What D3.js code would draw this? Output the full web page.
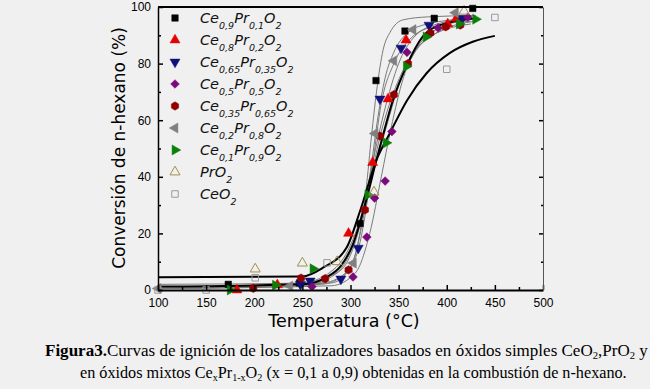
<!DOCTYPE html>
<html>
<head>
<meta charset="utf-8">
<script src="https://cdn.jsdelivr.net/npm/d3@7"></script>
<style>
  body { margin: 0; background: #f0f0f0; }
  svg { display: block; }
</style>
</head>
<body>
<svg width="650" height="389"></svg>
<script>
// measured points, [temperature °C, conversion %]
const ce09Pts = [[173, 2], [247, 2.5], [310, 23.5], [326.5, 74], [356.6, 91.5], [387, 96], [427, 99.5]];
const ce08Pts = [[182, 0], [224, 1.8], [298, 20], [323, 45], [339, 67.5], [357.7, 88.3], [401, 94], [410, 96]];
const ce065Pts = [[248, 2], [258, 3.2], [290, 3.9], [308, 14.8], [330.6, 67.5], [352.5, 85.5], [381.6, 93.6], [416, 96]];
const ce05Pts = [[260, 1.2], [302.6, 4.6], [317, 18.7], [325, 32.5], [336, 38.5], [343, 56], [358.7, 84], [391, 92.6], [422, 96.4]];
const ce035Pts = [[199, 0.6], [248.6, 4.2], [273.6, 4], [298, 7.1], [315, 28.3], [330.6, 54.4], [345, 69], [359.7, 80], [383, 90.8], [399, 93], [414, 93.6]];
const ce02Pts = [[100, 0.5], [237, 1.4], [303, 9.5], [325.5, 55.3], [345, 81], [365, 92], [409, 98]];
const ce01Pts = [[175, 0], [222, 1.7], [261, 7.5], [318, 33.6], [337, 52], [358, 79], [378.5, 89.4], [413, 94], [430, 95.7]];
const pro2Pts = [[201, 7.4], [250, 9.5], [286, 10], [324.4, 34.6], [418, 98.5]];
const ceo2Pts = [[100, 0], [150, 0], [201, 4.3], [275.6, 9.6], [400, 78], [450, 96.3]];

// fitted curves
const ce09Fit = [[100, 2], [270, 2.5], [295, 6], [308, 17], [316, 35], [322, 55], [327, 70], [334, 85], [341, 91], [355, 95.5], [380, 96.5], [430, 97]];
const ce08Fit = [[100, 0.5], [250, 1.5], [290, 7], [310, 23], [323, 45], [335, 63], [350, 80], [365, 89], [390, 94], [425, 96]];
const ce065Fit = [[100, 0.5], [270, 2], [295, 6], [310, 17], [322, 42], [332, 66], [345, 80], [360, 88], [385, 93], [425, 95]];
const ce05Fit = [[100, 0.5], [280, 1.5], [305, 6], [320, 20], [332, 40], [342, 57], [355, 75], [370, 86], [395, 93], [430, 96]];
const ce035Fit = [[100, 1], [250, 2.5], [285, 6], [305, 18], [320, 38], [332, 56], [345, 70], [360, 81], [385, 90], [425, 94]];
const ce02Fit = [[100, 1], [280, 2.5], [300, 8], [313, 25], [322, 45], [328, 60], [336, 75], [345, 84], [360, 91], [380, 94], [425, 96]];
const ce01Fit = [[100, 0.5], [250, 2.5], [285, 8], [305, 20], [320, 37], [335, 55], [350, 72], [365, 83], [390, 91], [430, 95]];
const pro2Fit = [[100, 1.2], [250, 2], [275, 4.5], [290, 8.5], [303, 16.6], [315, 30], [327, 46], [334, 55], [344, 67], [358, 79], [375, 89.5], [393, 93.6], [431, 96]];
const ceo2Fit = [[100, 4.5], [250, 4.8], [271, 7.8], [296, 15], [310, 28], [327, 46], [341, 55.5], [358.7, 67], [379, 76.6], [403, 83.7], [427, 87.7], [450, 89.8]];

const seriesPts = [ce09Pts, ce08Pts, ce065Pts, ce05Pts, ce035Pts, ce02Pts, ce01Pts, pro2Pts, ceo2Pts];
const seriesFit = [ce09Fit, ce08Fit, ce065Fit, ce05Fit, ce035Fit, ce02Fit, ce01Fit, pro2Fit, ceo2Fit];
const seriesColor = ["#000000", "#e60000", "#10107a", "#7a0a7a", "#900000", "#808080", "#0a800a", "#a09050", "#9a9a9a"];
const seriesShape = ["square", "up", "down", "diamond", "hex", "left", "right", "upOpen", "squareOpen"];
// legend labels: [text, subscript?]
const seriesLabel = [
  [["Ce"], ["0,9", 1], ["Pr"], ["0,1", 1], ["O"], ["2", 1]],
  [["Ce"], ["0,8", 1], ["Pr"], ["0,2", 1], ["O"], ["2", 1]],
  [["Ce"], ["0,65", 1], ["Pr"], ["0,35", 1], ["O"], ["2", 1]],
  [["Ce"], ["0,5", 1], ["Pr"], ["0,5", 1], ["O"], ["2", 1]],
  [["Ce"], ["0,35", 1], ["Pr"], ["0,65", 1], ["O"], ["2", 1]],
  [["Ce"], ["0,2", 1], ["Pr"], ["0,8", 1], ["O"], ["2", 1]],
  [["Ce"], ["0,1", 1], ["Pr"], ["0,9", 1], ["O"], ["2", 1]],
  [["PrO"], ["2", 1]],
  [["CeO"], ["2", 1]]
];
const xTicks = [100, 150, 200, 250, 300, 350, 400, 450, 500];
const yTicks = [0, 20, 40, 60, 80, 100];

const svg = d3.select("svg");
const x = d3.scaleLinear().domain([100, 500]).range([158, 543]);
const y = d3.scaleLinear().domain([0, 100]).range([290, 7]);

// fitted curves: thin gray, last two thick black
const line = d3.line().x(d => x(d[0])).y(d => y(d[1])).curve(d3.curveMonotoneX);
const plot = svg.append("g");
seriesFit.forEach((f, i) => {
  const thick = i >= 7;
  plot.append("path")
    .attr("d", line(f))
    .attr("fill", "none")
    .attr("stroke", thick ? "#000" : "#7a7a7a")
    .attr("stroke-width", thick ? 2 : 1);
});

function hexPath(r) {
  const p = d3.path();
  for (let k = 0; k < 6; k++) {
    const a = Math.PI / 6 + k * Math.PI / 3;
    if (k === 0) p.moveTo(r * Math.cos(a), r * Math.sin(a));
    else p.lineTo(r * Math.cos(a), r * Math.sin(a));
  }
  p.closePath();
  return p.toString();
}

function drawMarker(g, shape, color) {
  let path, rot = 0, open = false;
  if (shape === "square" || shape === "squareOpen") {
    path = d3.symbol(d3.symbolSquare, 42)();
    open = shape === "squareOpen";
  } else if (shape === "diamond") {
    path = d3.symbol(d3.symbolSquare, 38)();
    rot = 45;
  } else if (shape === "hex") {
    path = hexPath(4.2);
  } else {
    path = d3.symbol(d3.symbolTriangle, 44)();
    rot = { up: 0, upOpen: 0, down: 180, left: -90, right: 90 }[shape];
    open = shape === "upOpen";
  }
  g.append("path")
    .attr("d", path)
    .attr("transform", `rotate(${rot})`)
    .attr("fill", open ? "none" : color)
    .attr("stroke", color)
    .attr("stroke-width", open ? 1 : 0.5);
}

seriesPts.forEach((pts, i) => {
  pts.forEach(p => {
    const g = plot.append("g").attr("transform", `translate(${x(p[0])},${y(p[1])})`);
    drawMarker(g, seriesShape[i], seriesColor[i]);
  });
});

// axes with inward ticks
const font = "Liberation Sans, Arial, sans-serif";
const xAxis = svg.append("g").attr("transform", "translate(0,290)")
  .call(d3.axisBottom(x).tickValues(xTicks).tickSizeInner(-5).tickSizeOuter(0).tickPadding(8));
const xMinor = svg.append("g").attr("transform", "translate(0,290)")
  .call(d3.axisBottom(x).tickValues(xTicks.slice(0, -1).map(v => v + 25)).tickFormat("").tickSizeInner(-3).tickSizeOuter(0));
const yAxis = svg.append("g").attr("transform", "translate(158,0)")
  .call(d3.axisLeft(y).tickValues(yTicks).tickSizeInner(-5).tickSizeOuter(0).tickPadding(7));
const yMinor = svg.append("g").attr("transform", "translate(158,0)")
  .call(d3.axisLeft(y).tickValues(yTicks.slice(0, -1).map(v => v + 10)).tickFormat("").tickSizeInner(-3).tickSizeOuter(0));
const yRight = svg.append("g").attr("transform", "translate(543,0)")
  .call(d3.axisRight(y).tickValues(yTicks).tickFormat("").tickSizeInner(-4).tickSizeOuter(0));
const yRightMinor = svg.append("g").attr("transform", "translate(543,0)")
  .call(d3.axisRight(y).tickValues(yTicks.slice(0, -1).map(v => v + 10)).tickFormat("").tickSizeInner(-2).tickSizeOuter(0));

[xAxis, yAxis].forEach(a => a.selectAll("text").attr("font-family", font).attr("font-size", 12).attr("fill", "#000"));
xAxis.select(".domain").attr("stroke-width", 2);
yAxis.select(".domain").attr("stroke-width", 1.5);
[xMinor, yMinor, yRightMinor].forEach(a => a.select(".domain").remove());
yRight.select(".domain").attr("stroke", "#555");
svg.selectAll(".tick line").attr("stroke-width", 1.5);
svg.append("line")
  .attr("x1", 158).attr("x2", 543).attr("y1", 7).attr("y2", 7)
  .attr("stroke", "#000").attr("stroke-width", 2);

// axis titles
const titleFont = "DejaVu Sans, sans-serif";
svg.append("text")
  .attr("transform", "translate(125,148) rotate(-90)")
  .attr("text-anchor", "middle")
  .attr("font-family", titleFont)
  .attr("font-size", 17)
  .text("Conversión de n-hexano (%)");
svg.append("text")
  .attr("x", 344).attr("y", 327)
  .attr("text-anchor", "middle")
  .attr("font-family", titleFont)
  .attr("font-size", 17.5)
  .text("Temperatura (°C)");

// text with subscripts
function richText(sel, parts, size, subSize, shift) {
  let down = false;
  parts.forEach(p => {
    const sub = !!p[1];
    const t = sel.append("tspan").text(p[0]).attr("font-size", sub ? subSize : size);
    if (sub && !down) { t.attr("dy", shift); down = true; }
    else if (!sub && down) { t.attr("dy", -shift); down = false; }
  });
}

// legend
seriesLabel.forEach((lab, i) => {
  const ly = 18 + i * 22;
  const g = svg.append("g").attr("transform", `translate(175,${ly})`);
  drawMarker(g, seriesShape[i], seriesColor[i]);
  const t = svg.append("text")
    .attr("x", 200).attr("y", ly + 5)
    .attr("font-family", titleFont)
    .attr("font-style", "italic")
    .attr("fill", "#111");
  richText(t, lab, 14.5, 9.5, 6);
});

// caption
const capFont = "Liberation Serif, Times New Roman, serif";
const cap1 = svg.append("text").attr("x", 45).attr("y", 356).attr("font-family", capFont).attr("font-size", 16);
cap1.append("tspan").attr("font-weight", "bold").text("Figura3.");
richText(cap1, [["Curvas de ignición de los catalizadores basados en óxidos simples CeO"], ["2", 1], [",PrO"], ["2", 1], [" y"]], 16, 10, 3);
const cap2 = svg.append("text").attr("x", 80).attr("y", 378).attr("font-family", capFont).attr("font-size", 16);
richText(cap2, [["en óxidos mixtos Ce"], ["x", 1], ["Pr"], ["1-x", 1], ["O"], ["2", 1], [" (x = 0,1 a 0,9) obtenidas en la combustión de n-hexano."]], 16, 10, 3);

// fit caption lines to their measured widths
[[cap1, 603], [cap2, 547]].forEach(([t, w]) => {
  const len = t.node().getComputedTextLength();
  const k = w / len;
  t.selectAll("tspan").each(function () {
    const s = +d3.select(this).attr("font-size") || 16;
    d3.select(this).attr("font-size", s * k);
  });
});
</script>
</body>
</html>
